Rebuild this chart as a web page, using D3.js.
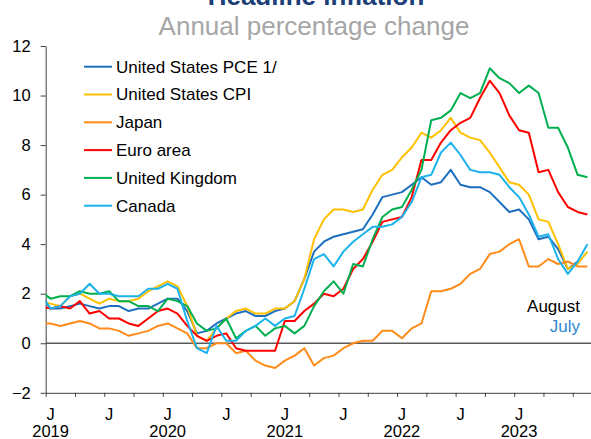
<!DOCTYPE html>
<html>
<head>
<meta charset="utf-8">
<script src="https://cdn.jsdelivr.net/npm/d3@7"></script>
<style>
  body { margin: 0; background: #fff; }
  svg { display: block; font-family: "Liberation Sans", Arial, sans-serif; }
</style>
</head>
<body>
<svg id="chart"></svg>
<script>
// monthly observations, Dec 2018 .. Aug 2023
const months = [
  "2018-12",
  "2019-01","2019-02","2019-03","2019-04","2019-05","2019-06","2019-07","2019-08","2019-09","2019-10","2019-11","2019-12",
  "2020-01","2020-02","2020-03","2020-04","2020-05","2020-06","2020-07","2020-08","2020-09","2020-10","2020-11","2020-12",
  "2021-01","2021-02","2021-03","2021-04","2021-05","2021-06","2021-07","2021-08","2021-09","2021-10","2021-11","2021-12",
  "2022-01","2022-02","2022-03","2022-04","2022-05","2022-06","2022-07","2022-08","2022-09","2022-10","2022-11","2022-12",
  "2023-01","2023-02","2023-03","2023-04","2023-05","2023-06","2023-07","2023-08"
];

const usPce = [1.9,
  1.4,1.4,1.5,1.6,1.5,1.4,1.5,1.5,1.3,1.4,1.4,1.6,
  1.8,1.8,1.3,0.4,0.5,0.8,1.0,1.2,1.3,1.1,1.1,1.3,
  1.4,1.7,2.6,3.7,4.1,4.3,4.4,4.5,4.6,5.2,5.9,6.0,
  6.1,6.4,6.7,6.4,6.5,7.0,6.4,6.3,6.3,6.1,5.7,5.3,
  5.4,5.0,4.2,4.3,3.8,3.0,3.3,null];

const usCpi = [1.7,
  1.6,1.5,1.9,2.0,1.8,1.6,1.8,1.7,1.7,1.8,2.1,2.3,
  2.5,2.3,1.5,0.3,0.1,0.6,1.0,1.3,1.4,1.2,1.2,1.4,
  1.4,1.7,2.6,4.2,5.0,5.4,5.4,5.3,5.4,6.2,6.8,7.0,
  7.5,7.9,8.5,8.3,8.6,9.1,8.5,8.3,8.2,7.7,7.1,6.5,
  6.4,6.0,5.0,4.9,4.0,3.0,3.2,3.7];

const japan = [0.8,
  0.8,0.7,0.8,0.9,0.8,0.6,0.6,0.5,0.3,0.4,0.5,0.7,
  0.8,0.6,0.4,-0.2,-0.2,0.0,0.0,-0.4,-0.3,-0.7,-0.9,-1.0,
  -0.7,-0.5,-0.2,-0.9,-0.6,-0.5,-0.2,0.0,0.1,0.1,0.5,0.5,
  0.2,0.6,0.8,2.1,2.1,2.2,2.4,2.8,3.0,3.6,3.7,4.0,
  4.2,3.1,3.1,3.4,3.2,3.3,3.1,3.1];

const euroArea = [1.5,
  1.4,1.5,1.4,1.7,1.2,1.3,1.0,1.0,0.8,0.7,1.0,1.3,
  1.4,1.2,0.7,0.3,0.1,0.3,0.4,-0.2,-0.3,-0.3,-0.3,-0.3,
  0.9,0.9,1.3,1.6,2.0,1.9,2.2,3.0,3.4,4.1,4.9,5.0,
  5.1,5.9,7.4,7.4,8.1,8.6,8.9,9.1,9.9,10.6,10.1,9.2,
  8.6,8.5,6.9,7.0,6.1,5.5,5.3,5.2];

const uk = [2.1,
  1.8,1.9,1.9,2.1,2.0,2.0,2.1,1.7,1.7,1.5,1.5,1.3,
  1.8,1.7,1.5,0.8,0.5,0.6,1.0,0.2,0.5,0.7,0.3,0.6,
  0.7,0.4,0.7,1.5,2.1,2.5,2.0,3.2,3.1,4.2,5.1,5.4,
  5.5,6.2,7.0,9.0,9.1,9.4,10.1,9.9,10.1,11.1,10.7,10.5,
  10.1,10.4,10.1,8.7,8.7,7.9,6.8,6.7];

const canada = [2.0,
  1.4,1.5,1.9,2.0,2.4,2.0,2.0,1.9,1.9,1.9,2.2,2.2,
  2.4,2.2,0.9,-0.2,-0.4,0.7,0.1,0.1,0.5,0.7,1.0,0.7,
  1.0,1.1,2.2,3.4,3.6,3.1,3.7,4.1,4.4,4.7,4.7,4.8,
  5.1,5.7,6.7,6.8,7.7,8.1,7.6,7.0,6.9,6.9,6.8,6.3,
  5.9,5.2,4.3,4.4,3.4,2.8,3.3,4.0];

const seriesNames = ["United States PCE 1/", "United States CPI", "Japan", "Euro area", "United Kingdom", "Canada"];
const seriesValues = [usPce, usCpi, japan, euroArea, uk, canada];
const seriesColors = ["#1f6fbf", "#ffc000", "#ff8c1a", "#ff0000", "#00b050", "#1cb2ec"];

const yTicks = [-2, 0, 2, 4, 6, 8, 10, 12];
const halfYearLabels = ["J","J","J","J","J","J","J","J","J"];
const yearLabels = ["2019", "2020", "2021", "2022", "2023"];

const width = 591, height = 439;
const left = 45.7, monthW = 9.76;

const svg = d3.select("#chart")
    .attr("width", width)
    .attr("height", height);

// month index: 0 = Jan 2019
const monthIndex = s => (+s.slice(0, 4) - 2019) * 12 + (+s.slice(5, 7) - 1);

const x = d3.scaleLinear()
    .domain([0, 56])
    .range([left, left + 56 * monthW]);

const y = d3.scaleLinear()
    .domain([-2, 12])
    .range([392.8, 46]);

// title (cut by the top edge in the original)
svg.append("text")
    .attr("x", 316).attr("y", 5)
    .attr("text-anchor", "middle")
    .attr("font-size", 26).attr("font-weight", "bold")
    .attr("fill", "#1c3f78")
    .text("Headline inflation");
svg.append("text")
    .attr("x", 314).attr("y", 35)
    .attr("text-anchor", "middle")
    .attr("font-size", 26)
    .attr("fill", "#a6a6a6")
    .text("Annual percentage change");

svg.append("defs").append("clipPath").attr("id", "plot")
  .append("rect")
    .attr("x", left).attr("y", 0)
    .attr("width", width - left).attr("height", height);

// zero line
svg.append("line")
    .attr("x1", x(0)).attr("x2", width)
    .attr("y1", y(0)).attr("y2", y(0))
    .attr("stroke", "#5a5a5a")
    .attr("stroke-width", 1.5);

// y axis
const yAxis = svg.append("g")
    .attr("transform", "translate(" + left + ",0)")
    .call(d3.axisLeft(y).tickValues(yTicks).tickSize(5).tickSizeOuter(0).tickPadding(10));
yAxis.selectAll("text").attr("font-size", 16.5).attr("fill", "#000").attr("font-family", null);
yAxis.selectAll("line, path").attr("stroke", "#404040");

// x axis
const xAxis = svg.append("g")
    .attr("transform", "translate(0," + y(-2) + ")")
    .call(d3.axisBottom(x).tickValues(d3.range(0, 56, 3)).tickSize(4).tickSizeOuter(0).tickFormat(""));
xAxis.selectAll("line, path").attr("stroke", "#404040");

svg.append("g").selectAll("text")
    .data(halfYearLabels).enter()
    .append("text")
    .attr("x", (d, i) => x(i * 6 + 0.5))
    .attr("y", 420)
    .attr("text-anchor", "middle")
    .attr("font-size", 16.5)
    .text(d => d);

svg.append("g").selectAll("text")
    .data(yearLabels).enter()
    .append("text")
    .attr("x", (d, i) => x(i * 12 + 0.5))
    .attr("y", 437)
    .attr("text-anchor", "middle")
    .attr("font-size", 16.5)
    .text(d => d);

// series, plotted mid-month
const line = d3.line()
    .defined(d => d.v != null)
    .x(d => x(d.m + 0.5))
    .y(d => y(d.v));

const plot = svg.append("g").attr("clip-path", "url(#plot)");
seriesValues.forEach((vals, k) => {
    const pts = months.map((s, i) => ({ m: monthIndex(s), v: vals[i] }));
    plot.append("path")
        .datum(pts)
        .attr("fill", "none")
        .attr("stroke", seriesColors[k])
        .attr("stroke-width", 2)
        .attr("stroke-linejoin", "round")
        .attr("d", line);
});

// legend
const legend = svg.append("g");
seriesNames.forEach((name, k) => {
    const ly = 66.7 + k * 27.8;
    legend.append("line")
        .attr("x1", 84).attr("x2", 112)
        .attr("y1", ly).attr("y2", ly)
        .attr("stroke", seriesColors[k])
        .attr("stroke-width", 2);
    legend.append("text")
        .attr("x", 116).attr("y", ly)
        .attr("dy", "0.35em")
        .attr("font-size", 17)
        .text(name);
});

// latest observation note
svg.append("text")
    .attr("x", 580).attr("y", 312)
    .attr("text-anchor", "end")
    .attr("font-size", 17)
    .text("August");
svg.append("text")
    .attr("x", 580).attr("y", 332)
    .attr("text-anchor", "end")
    .attr("font-size", 17)
    .attr("fill", "#2f86cf")
    .text("July");
</script>
</body>
</html>
